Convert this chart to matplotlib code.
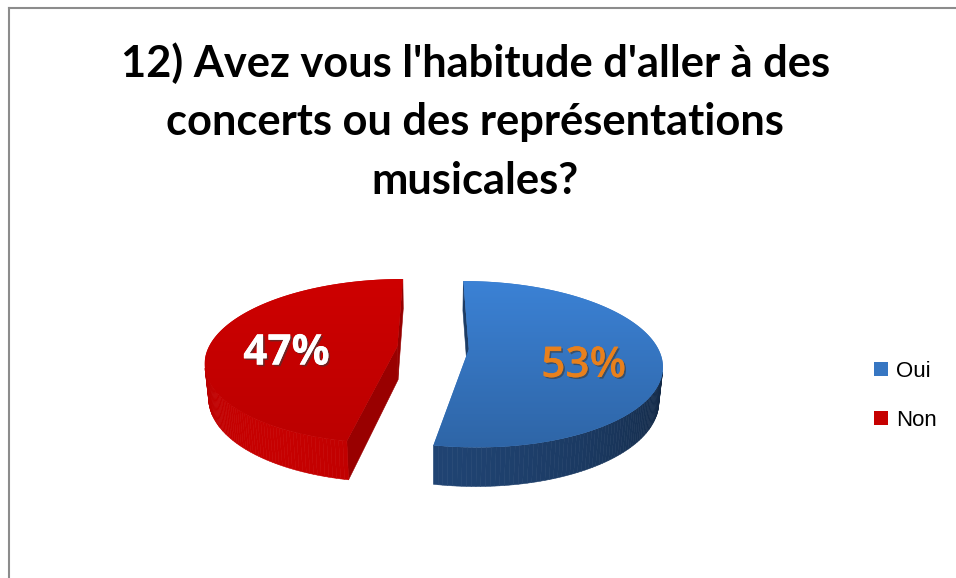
import numpy as np
import matplotlib.pyplot as plt
import matplotlib.patheffects as pe
from matplotlib.patches import Polygon, Patch
from matplotlib.colors import to_rgb

labels = ['Oui', 'Non']
values = [53, 47]
top_colors = ['#3676c2', '#c60000']
wall_colors = ['#1f4270', '#bc0000']
label_colors = ['#e8801c', '#ffffff']
title_lines = ["12) Avez vous l'habitude d'aller à des",
               "concerts ou des représentations",
               "musicales?"]

# fake 3D view parameters
elev = np.radians(25)
dist = 5.0
height = 0.2
explode = 0.19


def project(x, y, z):
    ys = y * np.sin(elev) + z * np.cos(elev)
    w = y * np.cos(elev) - z * np.sin(elev)
    s = dist / (dist + w)
    return x * s, ys * s, w


cam = np.array([0.0, -dist * np.cos(elev), dist * np.sin(elev)])
light = np.array([-0.55, -0.8, 0.3])
light /= np.linalg.norm(light)


def shade(color, normal, amb=0.72, k=0.35):
    f = amb + k * np.dot(normal, light)
    return tuple(np.clip(np.array(to_rgb(color)) * f, 0, 1))


fig = plt.figure(figsize=(9.56, 5.78), dpi=100)
ax = fig.add_axes([0.1862, 0.1042, 0.5335, 0.4905])
ax.axis('off')

fracs = np.array(values) / sum(values)
starts = 90 - 360 * np.concatenate([[0], np.cumsum(fracs)[:-1]])

walls = []
tops = []
for i, (frac, a0) in enumerate(zip(fracs, starts)):
    a1 = a0 - 360 * frac
    mid = np.radians((a0 + a1) / 2)
    cx, cy = explode * np.cos(mid), explode * np.sin(mid)
    t = np.radians(np.linspace(a0, a1, 160))
    ex, ey = cx + np.cos(t), cy + np.sin(t)

    # outer wall, split in thin quads
    for j in range(len(t) - 1):
        tm = (t[j] + t[j + 1]) / 2
        n = np.array([np.cos(tm), np.sin(tm), 0])
        p = np.array([cx + np.cos(tm), cy + np.sin(tm), -height / 2])
        if np.dot(n, cam - p) <= 0:
            continue
        xs = [ex[j], ex[j + 1], ex[j + 1], ex[j]]
        yy = [ey[j], ey[j + 1], ey[j + 1], ey[j]]
        zs = [0, 0, -height, -height]
        px, py, w = project(np.array(xs), np.array(yy), np.array(zs))
        walls.append((w.mean(), np.column_stack([px, py]), shade(wall_colors[i], n)))

    # the two cut faces
    for ang, sign in [(np.radians(a0), 1), (np.radians(a1), -1)]:
        n = sign * np.array([-np.sin(ang), np.cos(ang), 0])
        p = np.array([cx + 0.5 * np.cos(ang), cy + 0.5 * np.sin(ang), -height / 2])
        if np.dot(n, cam - p) <= 0:
            continue
        xs = np.array([cx, cx + np.cos(ang), cx + np.cos(ang), cx])
        yy = np.array([cy, cy + np.sin(ang), cy + np.sin(ang), cy])
        zs = np.array([0, 0, -height, -height])
        px, py, w = project(xs, yy, zs)
        walls.append((w.mean(), np.column_stack([px, py]), shade(wall_colors[i], n, amb=0.85, k=0.1)))

    # top face
    px, py, _ = project(np.concatenate([[cx], ex]), np.concatenate([[cy], ey]),
                        np.zeros(len(ex) + 1))
    tops.append((i, np.column_stack([px, py]), mid, cx, cy))

for _, verts, col in sorted(walls, key=lambda v: -v[0]):
    ax.add_patch(Polygon(verts, closed=True, facecolor=col, edgecolor=col, lw=0.4))

for i, verts, mid, cx, cy in tops:
    poly = Polygon(verts, closed=True, facecolor=top_colors[i], edgecolor='none')
    ax.add_patch(poly)
    # soft vertical gradient over the top face
    base = np.array(to_rgb(top_colors[i]))
    if i == 0:
        g = np.linspace(1.1, 0.86, 200)[:, None, None]
    else:
        g = np.linspace(1.04, 0.95, 200)[:, None, None]
    img = np.clip(base[None, None, :] * g, 0, 1)
    x0, y0 = verts.min(axis=0)
    x1, y1 = verts.max(axis=0)
    im = ax.imshow(img, extent=[x0, x1, y0, y1], origin='upper', aspect='auto',
                   interpolation='bilinear', zorder=2)
    im.set_clip_path(poly)

    lx, ly, _ = project(cx + 0.6 * np.cos(mid), cy + 0.6 * np.sin(mid), 0.0)
    txt = ax.text(lx, ly - 0.065, f'{values[i]}%', ha='center', va='center',
                  fontsize=30.5, fontfamily='Open Sans',
                  fontweight='bold' if i == 1 else 'semibold',
                  color=label_colors[i], zorder=5)
    txt.set_path_effects([pe.withSimplePatchShadow(offset=(1.2, -1.2),
                                                   shadow_rgbFace='#3a3a3a', alpha=0.6),
                          pe.Normal()])

ax.set_xlim(-1.35, 1.35)
ax.set_ylim(-0.9, 0.6)

# title
for k, line in enumerate(title_lines):
    fig.text(0.497, 1 - (63 + 59 * k) / 578, line, ha='center', va='center',
             fontsize=31.2, fontweight='bold', fontfamily='Lato', color='#000000')

# legend
handles = [Patch(facecolor=c, edgecolor='none') for c in top_colors]
fig.legend(handles, labels, loc='center left', bbox_to_anchor=(0.914, 1 - 396 / 578),
           frameon=False, handlelength=0.62, handleheight=0.62,
           handletextpad=0.4, labelspacing=1.25, borderaxespad=0, borderpad=0,
           prop={'family': 'Liberation Sans', 'size': 16})

# chart area border (left and top edges visible)
fig.add_artist(plt.Line2D([8.5 / 956, 8.5 / 956], [0, 1 - 7.5 / 578],
                          color='#8c8c8c', lw=1.5, transform=fig.transFigure))
fig.add_artist(plt.Line2D([8.5 / 956, 1], [1 - 7.5 / 578, 1 - 7.5 / 578],
                          color='#8c8c8c', lw=1.5, transform=fig.transFigure))

fig.savefig('out.png', dpi=100, facecolor='white')
